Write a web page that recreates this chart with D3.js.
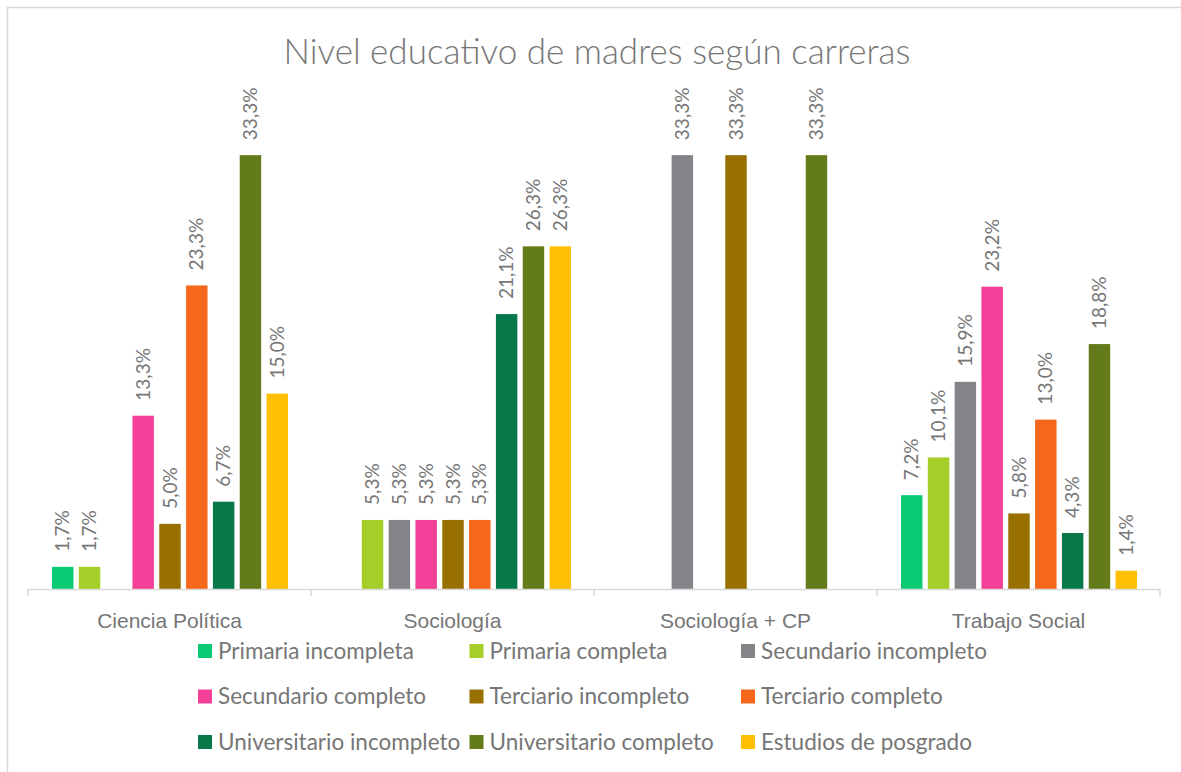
<!DOCTYPE html>
<html>
<head>
<meta charset="utf-8">
<script src="https://cdn.jsdelivr.net/npm/d3@7"></script>
<style>
  body { margin: 0; background: #fff; }
  svg { display: block; font-family: Lato, "Open Sans", sans-serif; }
  .lbl { fill: #767676; }
</style>
</head>
<body>
<script>
var width = 1181,
    height = 772;

// careers on the x axis
var carreras = ["Ciencia Política", "Sociología", "Sociología + CP", "Trabajo Social"];

// education levels (series)
var niveles = ["Primaria incompleta", "Primaria completa", "Secundario incompleto",
  "Secundario completo", "Terciario incompleto", "Terciario completo",
  "Universitario incompleto", "Universitario completo", "Estudios de posgrado"];

var colores = ["#0acb74", "#a6ce28", "#848388", "#f23f97", "#987000",
  "#f5671b", "#067849", "#647b1b", "#fec000"];

// percentages per career, null = no bar
var cienciaPolitica = [1.7, 1.7, null, 13.3, 5.0, 23.3, 6.7, 33.3, 15.0];
var sociologia      = [null, 5.3, 5.3, 5.3, 5.3, 5.3, 21.1, 26.3, 26.3];
var sociologiaCP    = [null, null, 33.3, null, 33.3, null, null, 33.3, null];
var trabajoSocial   = [7.2, 10.1, 15.9, 23.2, 5.8, 13.0, 4.3, 18.8, 1.4];

var valores = [cienciaPolitica, sociologia, sociologiaCP, trabajoSocial];

var svg = d3.select("body").append("svg")
    .attr("width", width)
    .attr("height", height);

// chart frame (right and bottom edges fall outside the window)
svg.append("rect")
    .attr("x", 7.5).attr("y", 7.5)
    .attr("width", 1300).attr("height", 900)
    .attr("fill", "#fff")
    .attr("stroke", "#d9d9d9")
    .attr("stroke-width", 1.5);

svg.append("text")
    .attr("class", "lbl")
    .attr("x", 597).attr("y", 64)
    .attr("text-anchor", "middle")
    .style("font-size", "35px")
    .style("font-weight", 300)
    .text("Nivel educativo de madres según carreras");

var x0 = d3.scaleBand().domain(carreras).range([28, 1160]);
var x1 = d3.scaleBand().domain(niveles).range([24, 260]).paddingInner(0.2);
var y = d3.scaleLinear().domain([0, 35]).range([589, 133]);

var grupos = svg.selectAll(".grupo")
    .data(carreras)
    .enter().append("g")
    .attr("class", "grupo")
    .attr("transform", function(d) { return "translate(" + x0(d) + ",0)"; });

var barras = grupos.selectAll(".barra")
    .data(function(d, i) {
      return valores[i].map(function(v, j) { return {nivel: niveles[j], v: v, c: colores[j]}; })
        .filter(function(e) { return e.v !== null; });
    })
    .enter().append("g");

barras.append("rect")
    .attr("x", function(d) { return x1(d.nivel); })
    .attr("y", function(d) { return y(d.v); })
    .attr("width", x1.bandwidth())
    .attr("height", function(d) { return y(0) - y(d.v); })
    .attr("fill", function(d) { return d.c; });

barras.append("text")
    .attr("class", "lbl")
    .attr("transform", function(d) {
      return "translate(" + (x1(d.nivel) + x1.bandwidth() / 2) + "," + (y(d.v) - 15) + ") rotate(-90)";
    })
    .attr("dy", "0.35em")
    .style("font-size", "19px")
    .text(function(d) { return d.v.toFixed(1).replace(".", ",") + "%"; });

// category axis
var xAxis = d3.axisBottom(x0).tickSize(0).tickPadding(24);
var ax = svg.append("g")
    .attr("transform", "translate(0,589)")
    .call(xAxis);
ax.select(".domain").attr("stroke", "#d9d9d9").attr("stroke-width", 1.5);
ax.selectAll("text").attr("class", "lbl").attr("fill", null)
    .style("font-size", "21px").style("font-family", null);
ax.selectAll(".sep")
    .data(d3.range(carreras.length + 1))
    .enter().append("line")
    .attr("x1", function(i) { return 28 + i * x0.step(); })
    .attr("x2", function(i) { return 28 + i * x0.step(); })
    .attr("y1", 0).attr("y2", 7)
    .attr("stroke", "#d9d9d9").attr("stroke-width", 1.5);

// legend, 3 columns
var leg = svg.selectAll(".leg")
    .data(niveles)
    .enter().append("g")
    .attr("transform", function(d, i) {
      return "translate(" + (198 + (i % 3) * 271.5) + "," + (651 + Math.floor(i / 3) * 45.5) + ")";
    });
leg.append("rect")
    .attr("x", 0).attr("y", -7)
    .attr("width", 14).attr("height", 14)
    .attr("fill", function(d, i) { return colores[i]; });
leg.append("text")
    .attr("class", "lbl")
    .attr("x", 20).attr("dy", "0.35em")
    .style("font-size", "22.5px")
    .text(function(d) { return d; });
</script>
</body>
</html>
